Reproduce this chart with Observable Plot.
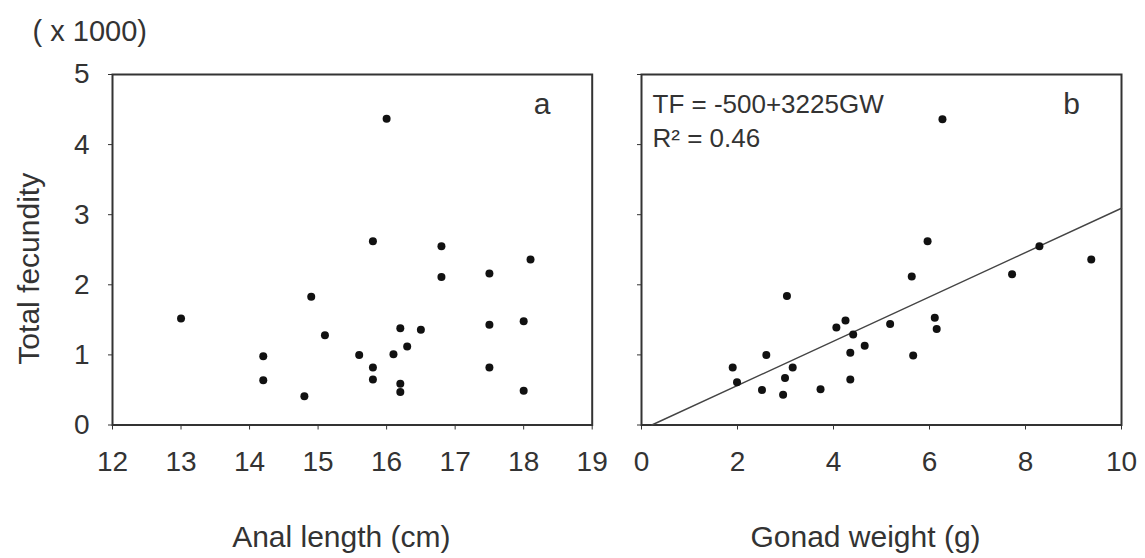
<!DOCTYPE html>
<html><head><meta charset="utf-8">
<script src="https://cdn.jsdelivr.net/npm/d3@7"></script>
<script src="https://cdn.jsdelivr.net/npm/@observablehq/plot@0.6"></script>
<style>
html,body{margin:0;padding:0;background:#fff;}
#wrap{position:relative;width:1145px;height:558px;overflow:hidden;font-family:"Liberation Sans",Arial,sans-serif;}
#wrap svg{position:absolute;top:0;max-width:none;}
</style></head><body><div id="wrap"></div>
<script>
// Panel a: anal length (cm) vs total fecundity (x 1000)
const analLength = [13.0, 14.2, 14.2, 14.8, 14.9, 15.1, 15.6, 15.8, 15.8, 15.8, 16.0, 16.1, 16.2, 16.2, 16.2, 16.3, 16.5, 16.8, 16.8, 17.5, 17.5, 17.5, 18.0, 18.0, 18.1];
const fecundityA = [1.52, 0.98, 0.64, 0.41, 1.83, 1.28, 1.00, 2.62, 0.82, 0.65, 4.37, 1.01, 1.38, 0.59, 0.47, 1.12, 1.36, 2.55, 2.11, 2.16, 1.43, 0.82, 1.48, 0.49, 2.36];
// Panel b: gonad weight (g) vs total fecundity (x 1000)
const gonadWeight = [1.90, 1.99, 2.51, 2.60, 2.95, 2.99, 3.03, 3.15, 3.73, 4.06, 4.25, 4.35, 4.35, 4.41, 4.65, 5.18, 5.63, 5.66, 5.96, 6.11, 6.15, 6.27, 7.72, 8.29, 9.37];
const fecundityB = [0.82, 0.61, 0.50, 1.00, 0.43, 0.67, 1.84, 0.82, 0.51, 1.39, 1.49, 1.03, 0.65, 1.29, 1.13, 1.44, 2.12, 0.99, 2.62, 1.53, 1.37, 4.36, 2.15, 2.55, 2.36];
// Fitted line as drawn (in thousands)
const fitIntercept = -0.068;
const fitSlope = 0.316;
// Ticks and labels
const yTicks = [0, 1, 2, 3, 4, 5];
const xTicksA = [12, 13, 14, 15, 16, 17, 18, 19];
const xTicksB = [0, 2, 4, 6, 8, 10];
const yTitle = "Total fecundity";
const unitNote = "( x 1000)";
const xTitleA = "Anal length (cm)";
const xTitleB = "Gonad weight (g)";
const panelA = "a";
const panelB = "b";
const eqLine1 = "TF = -500+3225GW";
const eqLine2 = "R\u00B2 = 0.46";

const ink = "#333";
const font = "Liberation Sans, Arial, sans-serif";
const fmt = d3.format("d");
const common = {
  height: 558, marginTop: 74, marginBottom: 133.5,
  style: {background: "transparent", overflow: "visible", fontFamily: font, color: ink}
};
const idxA = analLength.map((_, i) => i);
const idxB = gonadWeight.map((_, i) => i);

const plotA = Plot.plot({
  ...common, width: 610, marginLeft: 112, marginRight: 18.3,
  x: {domain: [xTicksA[0], xTicksA[xTicksA.length - 1]]},
  y: {domain: [yTicks[0], yTicks[yTicks.length - 1]]},
  marks: [
    Plot.axisY(yTicks, {tickSize: 4, tickPadding: 19, fontSize: 28, tickFormat: fmt, label: null}),
    Plot.axisX(xTicksA, {tickSize: 5, tickPadding: 21, fontSize: 28, tickFormat: fmt, label: null}),
    Plot.frame({stroke: ink, strokeWidth: 2}),
    Plot.dot(idxA, {x: i => analLength[i], y: i => fecundityA[i], r: 4, fill: "#111", stroke: null}),
    Plot.text([panelA], {frameAnchor: "top-right", dx: -50, dy: 30, textAnchor: "middle", lineAnchor: "middle", fontSize: 30, fill: ink}),
    Plot.text([unitNote], {frameAnchor: "top-left", dx: -80, dy: -43, textAnchor: "start", lineAnchor: "middle", fontSize: 29, fill: ink}),
    Plot.text([xTitleA], {frameAnchor: "bottom", dx: -11, dy: 112.5, lineAnchor: "middle", fontSize: 30, fill: ink}),
    Plot.text([yTitle], {frameAnchor: "left", dx: -83, dy: 19, rotate: -90, textAnchor: "middle", lineAnchor: "middle", fontSize: 30, fill: ink})
  ]
});

const fitX = [-fitIntercept / fitSlope, xTicksB[xTicksB.length - 1]];
const plotB = Plot.plot({
  ...common, width: 545, marginLeft: 41, marginRight: 24,
  x: {domain: [xTicksB[0], xTicksB[xTicksB.length - 1]]},
  y: {domain: [yTicks[0], yTicks[yTicks.length - 1]]},
  marks: [
    Plot.axisY(yTicks, {tickSize: 4, tickFormat: () => "", label: null}),
    Plot.axisX(xTicksB, {tickSize: 5, tickPadding: 21, fontSize: 28, tickFormat: fmt, label: null}),
    Plot.frame({stroke: ink, strokeWidth: 2}),
    Plot.line(fitX, {x: d => d, y: d => fitIntercept + fitSlope * d, stroke: "#444", strokeWidth: 1.4}),
    Plot.dot(idxB, {x: i => gonadWeight[i], y: i => fecundityB[i], r: 4, fill: "#111", stroke: null}),
    Plot.text([panelB], {frameAnchor: "top-right", dx: -50, dy: 30, textAnchor: "middle", lineAnchor: "middle", fontSize: 30, fill: ink}),
    Plot.text([eqLine1], {frameAnchor: "top-left", dx: 11, dy: 30, textAnchor: "start", lineAnchor: "middle", fontSize: 26, fill: ink}),
    Plot.text([eqLine2], {frameAnchor: "top-left", dx: 11, dy: 64, textAnchor: "start", lineAnchor: "middle", fontSize: 26, fill: ink}),
    Plot.text([xTitleB], {frameAnchor: "bottom", dx: -16, dy: 112.5, lineAnchor: "middle", fontSize: 30, fill: ink})
  ]
});

const wrap = document.getElementById("wrap");
plotA.style.left = "0px";
plotB.style.left = "600px";
wrap.appendChild(plotA);
wrap.appendChild(plotB);
</script></body></html>
